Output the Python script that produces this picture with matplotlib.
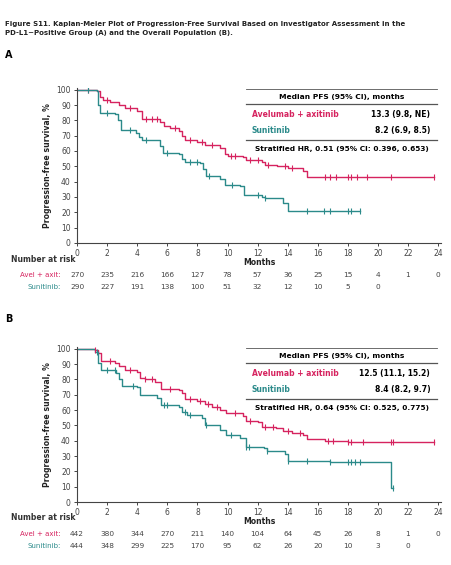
import matplotlib
matplotlib.use("Agg")
import matplotlib.pyplot as plt
import numpy as np
from matplotlib.transforms import blended_transform_factory as btf

RED = "#d6235f"
TEAL = "#2b8a8a"

# Panel A step curves (time, survival %)
a_avel_t = [0, 1.3, 1.5, 1.7, 2.2, 2.8, 3.2, 4.0, 4.3, 5.5, 5.8, 6.2, 6.8, 7.0, 7.2, 8.0, 8.5, 9.5, 9.8, 10.0, 11.0, 11.2, 12.3, 12.5, 13.3, 14.0, 15.0, 15.3, 23.7]
a_avel_s = [100, 99, 95, 93, 92, 90, 88, 86, 81, 79, 76, 75, 73, 70, 67, 66, 64, 62, 58, 57, 56, 54, 53, 51, 50, 49, 47, 43, 43]
a_suni_t = [0, 1.3, 1.4, 1.5, 2.5, 2.7, 2.9, 3.9, 4.1, 4.3, 5.5, 5.7, 6.8, 7.0, 7.2, 8.2, 8.4, 8.6, 9.5, 9.8, 10.8, 11.1, 12.3, 12.5, 13.7, 14.0, 18.8]
a_suni_s = [100, 99, 90, 85, 84, 80, 74, 72, 69, 67, 63, 59, 58, 55, 53, 52, 48, 44, 42, 38, 37, 31, 30, 29, 26, 21, 21]
a_avel_cens = [0.7, 2.0, 3.5, 4.6, 5.0, 5.3, 6.5, 7.5, 8.3, 9.0, 10.2, 10.5, 11.5, 12.0, 12.7, 13.8, 14.3, 16.5, 16.8, 17.2, 18.0, 18.2, 18.6, 19.3, 20.9, 23.7]
a_suni_cens = [0.7, 2.0, 3.5, 4.6, 6.0, 7.5, 8.0, 8.8, 10.3, 12.0, 12.5, 15.3, 16.4, 16.8, 18.0, 18.2, 18.8]
a_risk_avel = [270, 235, 216, 166, 127, 78, 57, 36, 25, 15, 4, 1, 0]
a_risk_suni = [290, 227, 191, 138, 100, 51, 32, 12, 10, 5, 0]
a_avel_label = "13.3 (9.8, NE)"
a_suni_label = "8.2 (6.9, 8.5)"
a_hr = "Stratified HR, 0.51 (95% CI: 0.396, 0.653)"

# Panel B
b_avel_t = [0, 1.2, 1.4, 1.6, 2.5, 2.8, 3.2, 4.0, 4.2, 4.5, 5.2, 5.6, 6.8, 7.0, 7.2, 8.0, 8.5, 9.0, 9.5, 9.9, 11.0, 11.2, 12.0, 12.3, 13.2, 13.7, 14.3, 15.0, 15.3, 16.5, 18.0, 23.7]
b_avel_s = [100, 99, 97, 92, 91, 89, 86, 85, 81, 80, 78, 74, 73, 71, 67, 66, 64, 62, 60, 58, 56, 53, 52, 49, 48, 46, 45, 44, 41, 40, 39, 39]
b_suni_t = [0, 1.2, 1.4, 1.6, 2.6, 2.8, 3.0, 4.0, 4.2, 5.3, 5.6, 6.8, 7.0, 7.3, 8.3, 8.5, 9.5, 9.9, 10.8, 11.2, 12.4, 12.6, 13.8, 14.0, 16.8, 20.9, 21.0]
b_suni_s = [100, 98, 91, 86, 84, 80, 76, 75, 70, 68, 63, 62, 59, 57, 55, 50, 47, 44, 42, 36, 35, 33, 31, 27, 26, 9, 9]
b_avel_cens = [1.2, 2.2, 3.5, 4.5, 5.0, 6.2, 7.5, 8.2, 8.7, 9.3, 10.5, 11.5, 12.5, 13.0, 14.0, 14.8, 16.7, 17.0, 18.0, 18.2, 19.0, 20.9, 21.0, 23.7]
b_suni_cens = [1.3, 2.0, 2.5, 3.7, 5.8, 6.0, 7.2, 7.5, 8.6, 10.2, 11.2, 11.4, 12.6, 14.0, 15.3, 16.8, 18.0, 18.2, 18.5, 18.8, 21.0]
b_risk_avel = [442, 380, 344, 270, 211, 140, 104, 64, 45, 26, 8, 1, 0]
b_risk_suni = [444, 348, 299, 225, 170, 95, 62, 26, 20, 10, 3, 0]
b_avel_label = "12.5 (11.1, 15.2)"
b_suni_label = "8.4 (8.2, 9.7)"
b_hr = "Stratified HR, 0.64 (95% CI: 0.525, 0.775)"

months = list(range(0, 25, 2))

fig = plt.figure(figsize=(4.51, 5.65), dpi=100)
fig.patch.set_facecolor("white")

fig.text(0.012, 0.962, "Figure S11. Kaplan-Meier Plot of Progression-Free Survival Based on Investigator Assessment in the\nPD-L1\u2212Positive Group (A) and the Overall Population (B).",
         fontsize=5.0, fontweight="bold", va="top", linespacing=1.6, color="#222222")
fig.text(0.012, 0.898, "A", fontsize=7, fontweight="bold")
fig.text(0.012, 0.43, "B", fontsize=7, fontweight="bold")


def step_val(t, s, x):
    i = np.searchsorted(t, x, side="right") - 1
    return s[max(i, 0)]


def panel(bottom, at, as_, st, ss, ac, sc, ra, rs, al, sl, hr, risk_y):
    ax = fig.add_axes([0.171, bottom, 0.807, 0.274])
    ax.step(at, as_, where="post", color=RED, lw=1.0)
    ax.step(st, ss, where="post", color=TEAL, lw=1.0)
    ax.plot(ac, [step_val(at, as_, c) for c in ac], ls="none", marker="|", ms=4, mew=0.8, color=RED)
    ax.plot(sc, [step_val(st, ss, c) for c in sc], ls="none", marker="|", ms=4, mew=0.8, color=TEAL)
    ax.set_xlim(0, 24.2)
    ax.set_ylim(0, 101)
    ax.set_xticks(months)
    ax.set_yticks(range(0, 101, 10))
    ax.tick_params(labelsize=5.5, colors="#444444", length=2.5, width=0.7, pad=2)
    for sp in ["top", "right"]:
        ax.spines[sp].set_visible(False)
    for sp in ["left", "bottom"]:
        ax.spines[sp].set_color("#444444")
        ax.spines[sp].set_linewidth(0.8)
    ax.set_xlabel("Months", fontsize=5.6, fontweight="bold", labelpad=0, color="#222222")
    ax.set_ylabel("Progression-free survival, %", fontsize=5.6, fontweight="bold", labelpad=3, color="#222222")
    # legend table
    x0, x1 = 0.465, 0.99
    for y, lw in [(0.995, 0.6), (0.895, 0.9), (0.665, 0.9)]:
        ax.plot([x0, x1], [y, y], transform=ax.transAxes, color="#555555", lw=lw, clip_on=False)
    ax.text((x0 + x1) / 2, 0.945, "Median PFS (95% CI), months", transform=ax.transAxes, ha="center", va="center", fontsize=5.4, fontweight="bold")
    ax.text(x0 + 0.015, 0.83, "Avelumab + axitinib", transform=ax.transAxes, va="center", fontsize=5.5, fontweight="bold", color=RED)
    ax.text(x0 + 0.015, 0.725, "Sunitinib", transform=ax.transAxes, va="center", fontsize=5.5, fontweight="bold", color=TEAL)
    ax.text(x1 - 0.02, 0.83, al, transform=ax.transAxes, va="center", ha="right", fontsize=5.5, fontweight="bold")
    ax.text(x1 - 0.02, 0.725, sl, transform=ax.transAxes, va="center", ha="right", fontsize=5.5, fontweight="bold")
    ax.text(x0 + 0.025, 0.61, hr, transform=ax.transAxes, va="center", fontsize=5.3, fontweight="bold")
    # risk table
    tr = btf(ax.transData, fig.transFigure)
    fig.text(0.025, risk_y, "Number at risk", fontsize=5.5, fontweight="bold", color="#333333")
    fig.text(0.135, risk_y - 0.027, "Avel + axit:", fontsize=5, color=RED, ha="right")
    fig.text(0.135, risk_y - 0.049, "Sunitinib:", fontsize=5, color=TEAL, ha="right")
    for i, v in enumerate(ra):
        ax.text(months[i], risk_y - 0.027, str(v), transform=tr, ha="center", fontsize=5.3, color="#444444")
    for i, v in enumerate(rs):
        ax.text(months[i], risk_y - 0.049, str(v), transform=tr, ha="center", fontsize=5.3, color="#444444")
    return ax


panel(0.570, a_avel_t, a_avel_s, a_suni_t, a_suni_s, a_avel_cens, a_suni_cens,
      a_risk_avel, a_risk_suni, a_avel_label, a_suni_label, a_hr, 0.537)
panel(0.1115, b_avel_t, b_avel_s, b_suni_t, b_suni_s, b_avel_cens, b_suni_cens,
      b_risk_avel, b_risk_suni, b_avel_label, b_suni_label, b_hr, 0.079)

fig.savefig("out.png", dpi=100)
